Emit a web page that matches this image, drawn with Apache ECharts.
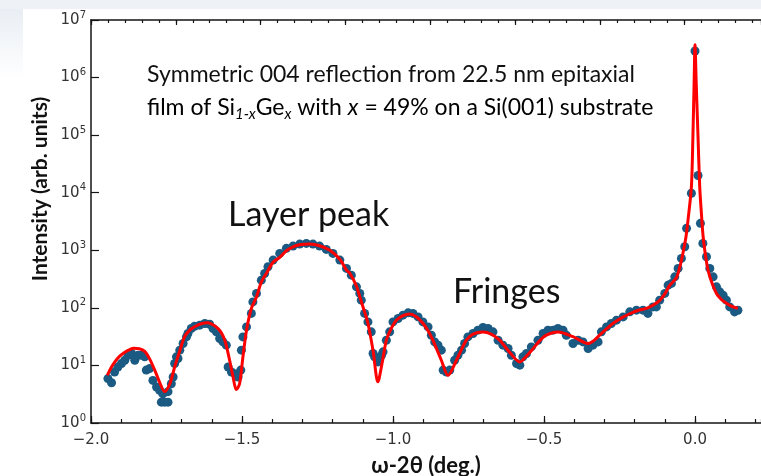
<!DOCTYPE html>
<html><head><meta charset="utf-8">
<script src="https://cdn.jsdelivr.net/npm/echarts@6/dist/echarts.min.js"></script>
<style>html,body{margin:0;padding:0;background:#fff}#c{width:761px;height:476px}</style>
</head><body><div id="c"></div>
<script>
// ---- data ----
const xTicks = [-2.0, -1.5, -1.0, -0.5, 0.0];
const xTickLabels = ['−2.0', '−1.5', '−1.0', '−0.5', '0.0'];
const yExponents = [0, 1, 2, 3, 4, 5, 6, 7];

// measured points (omega-2theta in deg., intensity in arb. units)
const dotX = [-1.944,-1.932,-1.922,-1.911,-1.899,-1.888,-1.877,-1.866,-1.855,-1.855,-1.844,-1.833,-1.822,-1.817,-1.806,-1.795,-1.783,-1.773,-1.762,-1.767,-1.756,-1.745,-1.745,-1.734,-1.728,-1.723,-1.717,-1.712,-1.706,-1.695,-1.684,-1.679,-1.668,-1.657,-1.640,-1.623,-1.607,-1.596,-1.585,-1.574,-1.563,-1.552,-1.546,-1.535,-1.524,-1.519,-1.513,-1.504,-1.502,-1.497,-1.485,-1.469,-1.464,-1.452,-1.436,-1.425,-1.414,-1.397,-1.375,-1.353,-1.331,-1.309,-1.287,-1.265,-1.243,-1.221,-1.199,-1.176,-1.154,-1.138,-1.121,-1.110,-1.105,-1.094,-1.083,-1.072,-1.066,-1.061,-1.050,-1.038,-1.033,-1.022,-1.011,-1.000,-0.983,-0.967,-0.950,-0.934,-0.917,-0.901,-0.884,-0.873,-0.862,-0.851,-0.840,-0.834,-0.823,-0.812,-0.796,-0.785,-0.773,-0.763,-0.752,-0.735,-0.719,-0.702,-0.685,-0.669,-0.652,-0.636,-0.619,-0.608,-0.591,-0.580,-0.570,-0.558,-0.542,-0.520,-0.503,-0.487,-0.470,-0.454,-0.437,-0.426,-0.404,-0.387,-0.371,-0.354,-0.338,-0.321,-0.310,-0.293,-0.277,-0.260,-0.238,-0.216,-0.194,-0.172,-0.156,-0.139,-0.128,-0.117,-0.100,-0.089,-0.078,-0.067,-0.056,-0.045,-0.034,-0.028,-0.012,0.000,0.010,0.018,0.026,0.038,0.049,0.060,0.071,0.082,0.093,0.104,0.115,0.131,0.142];
const dotY = [5.9,5.0,7.7,9.4,10.8,12.3,15.0,16.1,14.5,12.3,15.0,15.0,14.1,8.3,8.8,5.5,4.2,3.7,3.2,2.3,2.3,2.3,3.5,4.8,6.3,10.8,14.1,13.2,18.4,24,31.3,35.9,43.8,48,50,53.5,52,43.8,38.3,29.4,25.6,22.5,9.4,7.7,7.2,6.8,6.3,8.3,18.4,31.3,46.7,80,127,178,303,396,517,676,883,1080,1183,1282,1318,1282,1183,1037,883,676,484,370,232,178,136,80,57,38.3,16.1,14.1,11.5,15.0,17.2,27.4,38.3,57,65.4,74.7,81.9,80,69.7,57,46.7,33.5,25.6,22.5,18.4,8.3,7.7,8.3,12.3,15.0,18.4,24,31.3,35.9,41,45.6,43.8,38.3,27.4,22.5,19.7,15.0,10.8,10.1,14.1,16.1,21,27.4,35.9,41,41,43.8,41,33.5,24,27.4,25.6,19.7,22.5,25.6,38.3,46.7,53.5,61.1,69.7,85.2,91.2,91.2,80,104,104,136,178,248,266,346,484,723,1150,2404,9770,2900000,19900,2940,1318,771,484,346,232,190,166,136,104,85,91];

// fitted simulation curve
const fitX = [-1.946,-1.934,-1.921,-1.905,-1.888,-1.872,-1.858,-1.840,-1.822,-1.806,-1.789,-1.772,-1.756,-1.739,-1.723,-1.706,-1.690,-1.673,-1.657,-1.635,-1.613,-1.596,-1.580,-1.567,-1.557,-1.549,-1.541,-1.530,-1.519,-1.508,-1.497,-1.485,-1.469,-1.452,-1.436,-1.419,-1.397,-1.375,-1.353,-1.331,-1.309,-1.276,-1.243,-1.209,-1.176,-1.154,-1.143,-1.121,-1.110,-1.094,-1.083,-1.066,-1.050,-1.036,-1.022,-1.005,-0.989,-0.967,-0.945,-0.923,-0.901,-0.884,-0.868,-0.840,-0.818,-0.790,-0.773,-0.757,-0.735,-0.702,-0.675,-0.647,-0.614,-0.580,-0.558,-0.536,-0.514,-0.492,-0.454,-0.404,-0.354,-0.335,-0.316,-0.293,-0.271,-0.243,-0.216,-0.190,-0.161,-0.138,-0.117,-0.100,-0.084,-0.062,-0.050,-0.040,-0.030,-0.023,-0.012,-0.007,-0.003,0.000,0.004,0.010,0.0156,0.021,0.027,0.035,0.043,0.055,0.071,0.087,0.104,0.122,0.142];
const fitY = [6.7,9,11.5,14.5,17,18.8,19.8,19.5,17.5,13,8.3,5,3.5,4.8,9.4,18,31.6,41,47,53,55,51,44,36,27.5,19,12.3,6.5,3.8,4.8,14,41,98,155,280,400,620,750,980,1150,1250,1290,1200,1000,700,452,400,240,155,85,54,18,5.2,11,27.5,45,61,73,78,70,54,40,27.5,12.3,6.7,12.3,19,27.5,35,38,35,27.5,17,11.5,14.5,19.6,27,33.5,38,31.6,24,27,33.5,43,54,67,79,90,98,112,135,175,245,330,520,890,1700,3400,12600,93000,800000,3700000,800000,93000,12600,4500,1700,800,455,280,178,140,120,106,98];

// ---- build ----
const dots = dotX.map((x, i) => [x, dotY[i]]);
const fit = fitX.map((x, i) => [x, fitY[i]]);
const AX = '#141414';
const chart = echarts.init(document.getElementById('c'), null, {renderer: 'canvas'});
const xmax = 0.2185, topMax = 7.9;
chart.setOption({
  animation: false,
  backgroundColor: '#ffffff',
  grid: {left: 91, right: 0, top: 20, bottom: 53, outerBoundsMode: 'none'},
  xAxis: [
    {type: 'value', position: 'bottom', min: -2, max: xmax, interval: 0.5,
     axisLine: {onZero: false, lineStyle: {color: AX, width: 1.5}},
     axisTick: {inside: true, length: 7, lineStyle: {color: AX, width: 1.2}},
     axisLabel: {margin: 10, color: '#333', fontFamily: 'DejaVu Sans', fontSize: 15, showMaxLabel: false,
       formatter: v => { const k = xTicks.findIndex(t => Math.abs(t - v) < 1e-6); return k < 0 ? '' : xTickLabels[k]; }},
     splitLine: {show: false},
     name: 'ω-2θ (deg.)', nameLocation: 'middle', nameGap: 32,
     nameTextStyle: {fontFamily: 'Lato', fontWeight: 'bold', fontSize: 22, color: '#111'}},
    {type: 'value', position: 'bottom', min: -2, max: xmax, interval: 0.1,
     axisLine: {show: false, onZero: false}, axisTick: {inside: true, length: 4, lineStyle: {color: AX, width: 1.2}},
     axisLabel: {show: false}, splitLine: {show: false}},
    {type: 'value', position: 'top', min: 0, max: topMax, interval: 1,
     axisLine: {onZero: false, lineStyle: {color: AX, width: 1.5}},
     axisTick: {inside: true, length: 5, lineStyle: {color: AX, width: 1.2}},
     axisLabel: {show: false}, splitLine: {show: false}},
    {type: 'value', position: 'top', min: 0, max: topMax, interval: 0.2,
     axisLine: {show: false, onZero: false}, axisTick: {inside: true, length: 3, lineStyle: {color: AX, width: 1.2}},
     axisLabel: {show: false}, splitLine: {show: false}}
  ],
  yAxis: {type: 'log', logBase: 10, min: 1, max: 1e7, splitNumber: 7,
    axisLine: {onZero: false, lineStyle: {color: AX, width: 1.5}},
    axisTick: {inside: true, length: 8, lineStyle: {color: AX, width: 1.2}},
    axisLabel: {margin: 5,
      formatter: v => { const e = Math.round(Math.log10(v)); return yExponents.includes(e) ? '{b|10}{s|' + e + '}' : ''; },
      rich: {b: {fontSize: 15, fontFamily: 'DejaVu Sans', color: '#333', lineHeight: 20},
             s: {fontSize: 10, fontFamily: 'DejaVu Sans', color: '#333', lineHeight: 10, verticalAlign: 'top'}}},
    splitLine: {show: false}},
  series: [
    {type: 'scatter', data: dots, symbolSize: 9, itemStyle: {color: '#1b5a82', opacity: 1}, z: 2},
    {type: 'line', data: fit, showSymbol: false, smooth: 0.3, lineStyle: {color: '#ff0000', width: 3}, z: 3}
  ],
  graphic: [
    {type: 'rect', z: -10, silent: true, shape: {x: 0, y: 0, width: 761, height: 9}, style: {fill: '#eef1f5'}},
    {type: 'rect', z: -10, silent: true, shape: {x: 0, y: 9, width: 23, height: 70},
     style: {fill: {type: 'linear', x: 0, y: 0, x2: 0, y2: 1, colorStops: [{offset: 0, color: '#e9eef4'}, {offset: 1, color: '#ffffff'}]}}},
    {type: 'text', x: 40, y: 189, rotation: Math.PI / 2,
     style: {text: 'Intensity (arb. units)', font: 'bold 21px Lato', fill: '#111', align: 'center', verticalAlign: 'middle'}},
    {type: 'text', x: 147, y: 75,
     style: {text: 'Symmetric 004 reflection from 22.5 nm epitaxial', font: '23px Lato', fill: '#111', verticalAlign: 'middle'}},
    {type: 'text', x: 147, y: 108,
     style: {text: '{n|film of Si}{si|1-x}{n|Ge}{si|x}{n| with }{i|x}{n| = 49% on a Si(001) substrate}', verticalAlign: 'middle',
       rich: {n: {fontFamily: 'Lato', fontSize: 23, lineHeight: 28, color: '#111'},
              i: {fontFamily: 'Lato', fontSize: 23, lineHeight: 28, fontStyle: 'italic', color: '#111'},
              si: {fontFamily: 'Lato', fontSize: 15, lineHeight: 10, fontStyle: 'italic', verticalAlign: 'bottom', color: '#111'}}}},
    {type: 'text', x: 228, y: 215,
     style: {text: 'Layer peak', font: '34px Lato', fill: '#111', verticalAlign: 'middle'}},
    {type: 'text', x: 453, y: 292,
     style: {text: 'Fringes', font: '34px Lato', fill: '#111', verticalAlign: 'middle'}}
  ]
});
</script></body></html>
